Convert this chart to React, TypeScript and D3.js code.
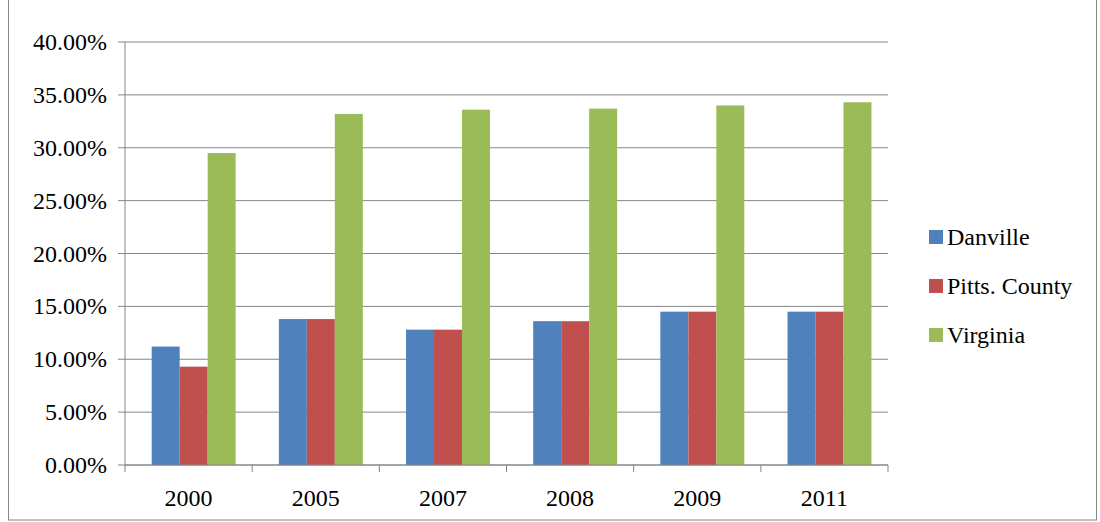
import * as d3 from "d3";

const years = ["2000", "2005", "2007", "2008", "2009", "2011"];
const seriesNames = ["Danville", "Pitts. County", "Virginia"];
const danville = [11.2, 13.8, 12.8, 13.6, 14.5, 14.5];
const pitts = [9.3, 13.8, 12.8, 13.6, 14.5, 14.5];
const virginia = [29.5, 33.2, 33.6, 33.7, 34.0, 34.3];
const colors = ["#4f81bd", "#c0504d", "#9bbb59"];
const yTicks = [0, 5, 10, 15, 20, 25, 30, 35, 40];

export default function App() {
  const W = 1100, H = 522;
  const left = 125, right = 888, top = 42, bottom = 465;
  const x = d3.scaleBand().domain(years).range([left, right]).paddingInner(0).paddingOuter(0);
  const y = d3.scaleLinear().domain([0, 40]).range([bottom, top]);
  const values = [danville, pitts, virginia];
  const bw = x.bandwidth();
  const inner = d3.scaleBand().domain(seriesNames).range([bw * 0.21, bw * 0.87]);

  return (
    <svg
      width={W}
      height={H}
      style={{ position: "absolute", left: 0, top: 0, fontFamily: '"Liberation Serif", Tinos, "Times New Roman", serif' }}
    >
      <rect x={8.5} y={-1} width={1088} height={521} fill="#fff" stroke="#868686" />
      {yTicks.map((t) => (
        <g key={t}>
          <line x1={left - 7} x2={right} y1={y(t)} y2={y(t)} stroke="#868686" />
          <text x={left - 18} y={y(t) + 8} textAnchor="end" fontSize={24}>
            {t.toFixed(2)}%
          </text>
        </g>
      ))}
      <line x1={left} x2={left} y1={top} y2={bottom} stroke="#868686" />
      {years.map((yr, i) =>
        seriesNames.map((s, j) => (
          <rect
            key={yr + s}
            x={(x(yr) ?? 0) + (inner(s) ?? 0)}
            width={inner.bandwidth()}
            y={y(values[j][i])}
            height={bottom - y(values[j][i])}
            fill={colors[j]}
          />
        ))
      )}
      <line x1={left} x2={right} y1={bottom} y2={bottom} stroke="#868686" />
      {[...years.map((yr) => x(yr) ?? 0), right].map((px, i) => (
        <line key={i} x1={px} x2={px} y1={bottom} y2={bottom + 7} stroke="#868686" />
      ))}
      {years.map((yr) => (
        <text key={yr} x={(x(yr) ?? 0) + bw / 2} y={506} textAnchor="middle" fontSize={24}>
          {yr}
        </text>
      ))}
      {seriesNames.map((s, j) => (
        <g key={s} transform={`translate(929, ${238 + j * 49})`}>
          <rect x={0} y={-8} width={14} height={14} fill={colors[j]} />
          <text x={18} y={7} fontSize={24}>{s}</text>
        </g>
      ))}
    </svg>
  );
}
